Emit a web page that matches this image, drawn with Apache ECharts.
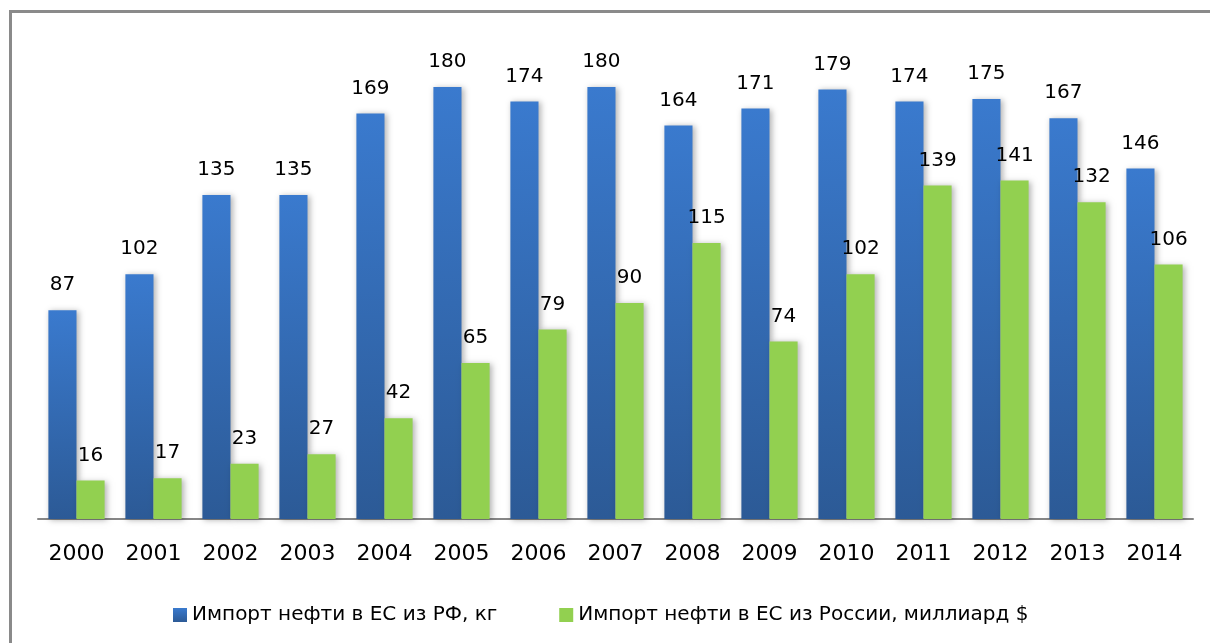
<!DOCTYPE html>
<html>
<head>
<meta charset="utf-8">
<script src="https://cdn.jsdelivr.net/npm/echarts@6/dist/echarts.min.js"></script>
<style>
  html, body { margin: 0; padding: 0; background: #fff; }
  #chart { width: 1210px; height: 643px; }
</style>
</head>
<body>
<div id="chart"></div>
<script>
  // годы и значения
  var years = ['2000', '2001', '2002', '2003', '2004', '2005', '2006', '2007',
               '2008', '2009', '2010', '2011', '2012', '2013', '2014'];
  var importKg = [87, 102, 135, 135, 169, 180, 174, 180, 164, 171, 179, 174, 175, 167, 146];
  var importBln = [16, 17, 23, 27, 42, 65, 79, 90, 115, 74, 102, 139, 141, 132, 106];
  var seriesNames = ['Импорт нефти в ЕС из РФ, кг', 'Импорт нефти в ЕС из России, миллиард $'];

  var myChart = echarts.init(document.getElementById('chart'));

  var blueFill = new echarts.graphic.LinearGradient(0, 0, 0, 1, [
    { offset: 0, color: '#3a7ace' },
    { offset: 1, color: '#2c5a96' }
  ]);
  var font = 'DejaVu Sans';

  var option = {
    animation: false,
    backgroundColor: '#fff',
    graphic: [
      // рамка слева и сверху (справа и снизу уходит за край)
      { type: 'rect', shape: { x: 9, y: 10, width: 3, height: 633 }, style: { fill: '#8a8a8a' } },
      { type: 'rect', shape: { x: 9, y: 10, width: 1201, height: 3 }, style: { fill: '#8a8a8a' } }
    ],
    grid: { left: 38, right: 17, top: 39, bottom: 124 },
    legend: {
      data: seriesNames,
      left: 168,
      top: 600,
      itemWidth: 14,
      itemHeight: 14,
      itemGap: 62,
      icon: 'rect',
      textStyle: { fontFamily: font, fontSize: 20, color: '#000' }
    },
    xAxis: {
      type: 'category',
      data: years,
      axisTick: { show: false },
      axisLine: { lineStyle: { color: '#868686', width: 2 } },
      axisLabel: { fontFamily: font, fontSize: 22, color: '#000', margin: 24, interval: 0 }
    },
    yAxis: {
      type: 'value',
      min: 0,
      max: 200,
      show: false,
      splitLine: { show: false }
    },
    series: [
      {
        name: seriesNames[0],
        type: 'bar',
        data: importKg,
        barGap: '0%',
        barCategoryGap: '27%',
        itemStyle: {
          color: blueFill,
          shadowBlur: 6,
          shadowColor: 'rgba(0,0,0,0.3)',
          shadowOffsetX: 2,
          shadowOffsetY: 1
        },
        label: {
          show: true,
          position: 'top',
          distance: 15,
          fontFamily: font,
          fontSize: 20,
          color: '#000'
        }
      },
      {
        name: seriesNames[1],
        type: 'bar',
        data: importBln,
        itemStyle: {
          color: '#92d050',
          shadowBlur: 6,
          shadowColor: 'rgba(0,0,0,0.3)',
          shadowOffsetX: 2,
          shadowOffsetY: 1
        },
        label: {
          show: true,
          position: 'top',
          distance: 15,
          fontFamily: font,
          fontSize: 20,
          color: '#000'
        }
      }
    ]
  };
  myChart.setOption(option);
</script>
</body>
</html>
